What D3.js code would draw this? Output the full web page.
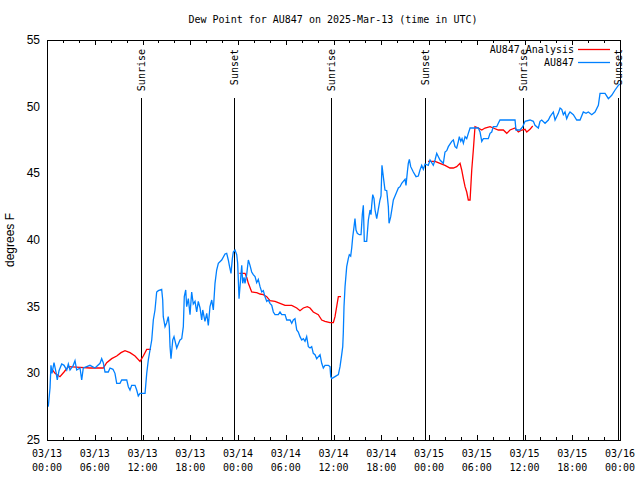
<!DOCTYPE html>
<html><head><meta charset="utf-8">
<script src="https://cdn.jsdelivr.net/npm/d3@7"></script>
<style>html,body{margin:0;padding:0;background:#fff;}</style>
</head><body>
<svg id="c" width="640" height="480"></svg>
<script>
const titleText = "Dew Point for AU847 on 2025-Mar-13 (time in UTC)";
const yLabel = "degrees F";
const seriesNames = ["AU847 Analysis", "AU847"];
const yTicks = [25, 30, 35, 40, 45, 50, 55];

// hours after 2025-03-13 00:00 UTC
const obsHours = [0.16,0.38,0.50,0.63,0.88,1.13,1.29,1.51,1.85,2.14,2.48,2.68,2.89,3.30,3.52,3.73,4.15,4.36,4.56,4.99,5.40,6.03,6.66,6.87,7.07,7.29,7.70,7.92,8.29,8.54,8.76,9.17,9.39,10.02,10.22,10.43,10.64,11.06,11.27,11.47,11.69,12.32,12.53,12.73,13.16,13.36,13.57,13.78,13.99,14.41,14.54,14.61,14.83,15.04,15.24,15.37,15.46,15.58,15.80,15.96,16.30,16.50,16.71,16.93,17.13,17.25,17.43,17.55,17.76,17.97,18.18,18.38,18.60,18.81,19.01,19.23,19.44,19.57,19.85,20.07,20.27,20.48,20.70,20.90,21.11,21.32,21.53,21.95,22.37,22.58,22.78,22.91,23.12,23.29,23.41,23.62,23.84,23.96,24.13,24.25,24.47,24.59,24.76,24.88,25.09,25.30,25.51,25.72,25.92,26.14,26.35,26.55,26.77,26.98,27.18,27.39,27.61,27.81,28.02,28.24,28.44,28.65,29.07,29.28,29.49,29.91,30.12,30.54,30.75,30.95,31.16,31.38,31.58,31.79,32.01,32.21,32.42,32.63,32.84,33.05,33.26,33.46,33.68,33.89,34.31,34.52,34.72,34.93,35.35,35.56,35.65,35.78,36.19,36.61,36.82,37.03,37.16,37.23,37.32,37.45,37.66,37.86,37.99,38.16,38.29,38.41,38.58,38.70,38.83,38.99,39.24,39.46,39.62,39.75,39.87,40.17,40.38,40.59,40.71,40.80,40.93,41.09,41.22,41.43,41.63,41.84,41.97,42.09,42.26,42.47,42.69,42.89,42.98,43.19,43.39,43.52,43.73,43.94,44.15,44.36,44.57,44.77,44.99,45.11,45.28,45.40,45.53,45.70,46.03,46.37,46.66,46.87,47.08,47.29,47.50,47.91,48.13,48.54,48.76,48.97,49.13,49.38,49.80,50.01,50.23,50.43,50.86,51.06,51.27,51.48,51.69,51.81,51.99,52.15,52.32,52.53,52.74,52.94,53.16,54.20,54.41,54.63,54.83,55.45,55.67,55.88,56.08,56.51,56.71,56.92,58.81,58.93,59.44,59.78,60.07,60.69,61.11,61.32,61.74,61.95,62.16,62.58,63.00,63.21,63.62,63.84,64.25,64.47,64.68,64.88,65.09,65.30,65.51,65.72,66.14,66.56,66.98,67.39,67.73,68.02,68.45,68.86,69.28,69.49,70.12,70.54,70.96,71.38,71.79,72.0];
const obsValues = [27.5,28.9,30.6,30.0,30.8,30.1,29.5,30.2,30.7,30.6,30.25,30.7,30.25,30.6,30.95,30.25,30.4,29.5,30.4,30.5,30.6,30.4,30.75,31.1,30.8,30.1,30.1,30.4,30.3,30.0,29.25,29.25,29.5,29.5,29.0,28.75,29.1,29.1,28.75,28.3,28.5,28.5,30.0,31.0,32.5,34.0,34.75,36.1,36.2,36.3,35.5,34.25,33.5,33.8,34.25,33.5,32.0,31.1,32.5,32.75,31.9,32.2,32.5,32.6,33.5,35.75,36.25,35.0,35.6,34.4,36.1,35.2,35.4,34.6,35.4,34.9,34.0,34.75,33.9,34.5,33.6,35.0,35.5,34.75,36.75,37.75,38.25,38.5,38.95,39.0,38.5,38.1,37.5,38.6,39.1,39.25,38.9,38.25,35.6,36.5,38.1,36.75,37.2,36.75,37.4,38.5,38.1,37.6,37.4,37.25,36.8,37.05,36.5,36.1,36.2,35.75,35.4,35.5,35.25,35.1,34.6,34.4,34.4,34.6,34.4,34.4,34.0,34.0,33.75,34.0,34.1,33.25,33.1,32.75,32.5,32.6,32.4,32.75,32.0,31.9,32.0,31.5,31.4,31.1,31.4,30.75,30.4,30.6,30.6,30.5,29.75,29.6,29.75,29.9,30.5,31.4,32.0,33.0,35.0,36.5,38.0,38.6,38.9,38.8,39.4,40.2,41.0,41.6,40.75,40.5,40.4,40.4,41.9,42.6,39.9,39.9,41.5,42.25,41.9,42.6,43.4,43.1,42.25,41.6,42.3,43.0,43.3,45.6,44.75,43.75,43.7,42.5,41.25,41.75,42.5,43.0,43.3,43.6,43.9,44.0,44.25,44.4,44.55,44.1,45.1,45.75,46.05,45.5,45.1,44.75,44.8,45.25,45.6,45.3,45.7,45.6,46.0,45.6,46.0,46.5,46.3,46.0,45.75,46.6,46.7,47.0,47.4,47.5,47.0,46.9,47.4,47.75,47.4,47.6,47.25,47.75,47.6,48.0,48.4,48.4,48.1,47.4,47.6,47.6,48.0,48.1,48.5,48.5,48.75,49.0,49.0,48.25,48.25,48.5,48.9,49.0,48.9,48.6,48.4,48.9,49.0,48.75,49.0,49.25,49.6,49.0,49.5,49.9,49.8,49.4,49.6,49.1,49.4,49.6,49.4,49.0,49.0,49.6,49.5,49.6,49.4,49.6,50.1,51.0,51.0,50.6,50.85,51.25,51.6,51.7];

// analysis series, three separate segments
const anaHours1 = [0.63,1.01,1.63,2.14,2.68,4.15,5.40,7.07,7.50,8.13,8.76,9.30,9.80,10.43,11.06,11.69,12.10,12.53,13.07];
const anaValues1 = [30.3,30.0,29.75,30.1,30.5,30.45,30.4,30.4,30.8,31.1,31.3,31.55,31.7,31.55,31.3,30.9,31.3,31.8,31.8];
const anaHours2 = [24.17,24.88,25.09,25.30,25.72,26.35,26.77,27.18,27.61,28.02,28.65,29.28,29.91,30.75,31.38,31.79,32.21,32.71,33.05,33.46,34.09,34.52,34.93,35.56,35.98,36.19,36.40,36.61,36.94];
const anaValues2 = [37.5,37.5,37.2,36.75,36.1,36.05,35.95,35.9,35.75,35.45,35.4,35.25,35.1,35.1,34.9,34.7,34.9,35.0,34.9,34.6,34.4,34.0,33.9,33.8,33.8,34.25,35.0,35.75,35.75];
const anaHours3 = [47.88,48.76,49.38,50.01,50.64,51.06,51.48,51.90,52.11,52.32,52.53,52.74,52.94,53.16,53.37,53.57,53.78,54.20,54.63,55.04,55.67,56.08,56.71,57.34,57.77,58.18,58.81,59.23,59.65,60.07,60.28,60.69,61.03];
const anaValues3 = [45.9,45.9,45.75,45.6,45.4,45.4,45.5,45.75,45.25,44.6,44.0,43.6,43.0,43.0,45.25,46.75,48.5,48.4,48.25,48.4,48.5,48.4,48.25,48.25,48.0,48.25,48.4,48.1,48.25,48.3,48.1,48.3,48.55];

const sunHours = [11.77, 23.44, 35.69, 47.56, 59.82, 71.72];
const sunLabels = ["Sunrise", "Sunset", "Sunrise", "Sunset", "Sunrise", "Sunset"];

const start = Date.UTC(2025, 2, 13, 0, 0);
const H = 3600000;
const toDate = h => new Date(start + h * H);

const svg = d3.select("#c");
const L = 47, R = 620, T = 40, B = 440;
const mono = "DejaVu Sans Mono, monospace";
const sans = "Liberation Sans, Arial, sans-serif";

const x = d3.scaleUtc().domain([toDate(0), toDate(72)]).range([L, R]);
const y = d3.scaleLinear().domain([25, 55]).range([B, T]);

svg.append("rect").attr("width", 640).attr("height", 480).attr("fill", "#fff");

// title
svg.append("text").attr("x", 333).attr("y", 23).attr("text-anchor", "middle")
  .attr("font-family", mono).attr("font-size", 10).text(titleText);

// y label
svg.append("text").attr("transform", "translate(14,240) rotate(-90)")
  .attr("text-anchor", "middle").attr("font-family", sans).attr("font-size", 12).text(yLabel);

// y tick labels
svg.append("g").selectAll("text").data(yTicks).join("text")
  .attr("x", 40).attr("y", d => y(d) + 4).attr("text-anchor", "end")
  .attr("font-family", sans).attr("font-size", 12).text(d => d);

// x ticks (minor every 2h, major every 6h), top and bottom, inward
const minor = d3.utcHour.every(2).range(toDate(0), toDate(72.01));
const major = d3.utcHour.every(6).range(toDate(0), toDate(72.01));
const tg = svg.append("g").attr("stroke", "#000").attr("stroke-width", 1);
minor.forEach(d => {
  const px = Math.round(x(d)) + 0.5;
  const len = (d.getUTCHours() % 6 === 0) ? 5 : 3;
  tg.append("line").attr("x1", px).attr("x2", px).attr("y1", B).attr("y2", B - len);
  tg.append("line").attr("x1", px).attr("x2", px).attr("y1", T).attr("y2", T + len);
});

const fmtD = d3.utcFormat("%m/%d"), fmtT = d3.utcFormat("%H:%M");
const xl = svg.append("g").attr("font-family", mono).attr("font-size", 10).attr("text-anchor", "middle");
major.forEach(d => {
  xl.append("text").attr("x", x(d)).attr("y", 457).text(fmtD(d));
  xl.append("text").attr("x", x(d)).attr("y", 471).text(fmtT(d));
});

// sun lines
const sg = svg.append("g");
sunHours.forEach((h, i) => {
  const px = Math.round(x(toDate(h))) + 0.5;
  sg.append("line").attr("x1", px).attr("x2", px).attr("y1", 98).attr("y2", B)
    .attr("stroke", "#000").attr("stroke-width", 1);
  sg.append("text").attr("transform", `translate(${px + 3},49) rotate(-90)`)
    .attr("text-anchor", "end").attr("font-family", mono).attr("font-size", 10)
    .text(sunLabels[i]);
});

const line = d3.line().x(d => x(toDate(d[0]))).y(d => y(d[1]));
const zipPts = (hs, vs) => hs.map((h, i) => [h, vs[i]]);

const clip = svg.append("clipPath").attr("id", "pc").append("rect")
  .attr("x", L).attr("y", T).attr("width", R - L).attr("height", B - T);
const pg = svg.append("g").attr("clip-path", "url(#pc)");

[[anaHours1, anaValues1], [anaHours2, anaValues2], [anaHours3, anaValues3]].forEach(([hs, vs]) => {
  pg.append("path").attr("d", line(zipPts(hs, vs))).attr("fill", "none")
    .attr("stroke", "#ff0000").attr("stroke-width", 1.3);
});
pg.append("path").attr("d", line(zipPts(obsHours, obsValues))).attr("fill", "none")
  .attr("stroke", "#0080ff").attr("stroke-width", 1.3);

// legend
const lg = svg.append("g").attr("font-family", mono).attr("font-size", 10);
const legColors = ["#ff0000", "#0080ff"];
seriesNames.forEach((n, i) => {
  const ly = 49 + i * 13;
  lg.append("text").attr("x", 574).attr("y", ly + 4).attr("text-anchor", "end").text(n);
  lg.append("line").attr("x1", 578).attr("x2", 610).attr("y1", ly + 0.5).attr("y2", ly + 0.5)
    .attr("stroke", legColors[i]).attr("stroke-width", 1.3);
});

// frame
svg.append("rect").attr("x", L + 0.5).attr("y", T + 0.5).attr("width", R - L).attr("height", B - T)
  .attr("fill", "none").attr("stroke", "#000").attr("stroke-width", 1);
</script>
</body></html>
